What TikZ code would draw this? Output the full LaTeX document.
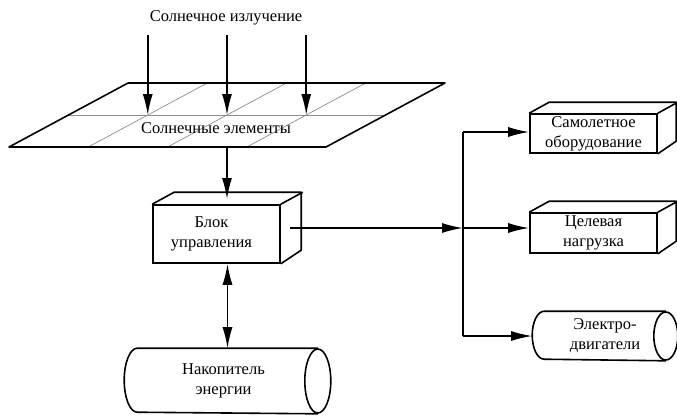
\documentclass[tikz,border=0pt]{standalone}
\usepackage{fontspec}
\setmainfont{Liberation Serif}
\newfontfamily\labelfont{Liberation Serif}
\usetikzlibrary{arrows.meta,calc}
\begin{document}
\begin{tikzpicture}[x=1pt,y=-1pt,
  line width=1.6pt,
  every node/.style={font=\labelfont\fontsize{16.5}{20}\selectfont, align=center, inner sep=0pt},
  arr/.style={-{Latex[length=21pt,width=10pt]}},
  darr/.style={{Latex[length=21pt,width=10pt]}-{Latex[length=21pt,width=10pt]}},
  gridline/.style={line width=0.7pt, black!45},
  face/.style={draw, minimum width=127pt},
]
\useasboundingbox (0,0) rectangle (677,416);

% --- solar radiation and the panel of cells ---
\node (sun) at (226,18) {Солнечное излучение};

\coordinate (pA) at (128,83);
\coordinate (pB) at (445,83);
\coordinate (pC) at (326,147);
\coordinate (pD) at (9,147);

\draw[gridline] ($(pA)!0.5!(pD)$) -- ($(pB)!0.5!(pC)$);
\foreach \k in {0.25,0.5,0.75}
  \draw[gridline] ($(pA)!\k!(pB)$) -- ($(pD)!\k!(pC)$);
\draw[line join=round] (pA) -- (pB) -- (pC) -- (pD) -- cycle;

\node (cells) at (216,128) {Солнечные элементы};

\coordinate (r1) at (147.75,35);
\coordinate (r2) at (227,35);
\coordinate (r3) at (306.25,35);
\coordinate (g1) at (147.75,115);
\coordinate (g2) at (227,115);
\coordinate (g3) at (306.25,115);
\draw[arr] (r1) -- (g1);
\draw[arr] (r2) -- (g2);
\draw[arr] (r3) -- (g3);

% --- control unit ---
\node[face, minimum height=58pt] (ctrl) at (216.5,234) {\hspace*{-10pt}Блок\\\hspace*{-10pt}управления};
\draw[line join=round] (ctrl.north west) -- ++(22,-12) -- ++(127,0) -- ++(0,58) -- (ctrl.south east);
\draw (ctrl.north east) -- ++(22,-12);

\coordinate (pbot) at (227,147);
\coordinate (ctop) at (227,199);
\draw[arr] (pbot) -- (ctop);

% --- energy storage ---
\node[minimum width=179pt, minimum height=64pt] (nak) at (227.5,381) {\hspace*{-8pt}Накопитель\\\hspace*{-8pt}энергии};
\draw (nak.north east) -- (nak.north west)
  arc[start angle=90, end angle=270, x radius=13pt, y radius=32pt] -- (nak.south east);
\draw (nak.east) ellipse[x radius=13pt, y radius=32pt];

\draw[darr] (ctrl.south -| nak.north) -- (nak.north);

% --- consumers ---
\node[face, minimum height=39pt] (sam) at (593.5,133.5) {Самолетное\\оборудование};
\draw[line join=round] (sam.north west) -- ++(20,-11) -- ++(127,0) -- ++(0,39) -- (sam.south east);
\draw (sam.north east) -- ++(20,-11);

\node[face, minimum height=40pt] (cel) at (593.5,233) {Целевая\\нагрузка};
\draw[line join=round] (cel.north west) -- ++(20,-11) -- ++(127,0) -- ++(0,40) -- (cel.south east);
\draw (cel.north east) -- ++(20,-11);

\node[minimum width=120pt, minimum height=48pt] (ele) at (605,336) {Электро-\\двигатели};
\draw (ele.north east) -- (ele.north west)
  arc[start angle=90, end angle=270, x radius=12pt, y radius=24pt] -- (ele.south east);
\draw (ele.east) ellipse[x radius=12pt, y radius=24pt];

% --- distribution bus ---
\coordinate (out) at (290,228);
\coordinate (busT) at (463,132);
\coordinate (busM) at (463,228);
\coordinate (busB) at (463,336);
\draw[arr] (out) -- (busM);
\draw (busT) -- (busB);
\draw[arr] (busT) -- (sam.west |- busT);
\draw[arr] (busM) -- (cel.west |- busM);
\draw[arr] (busB) -- ([xshift=-12pt]ele.west);
\end{tikzpicture}
\end{document}
